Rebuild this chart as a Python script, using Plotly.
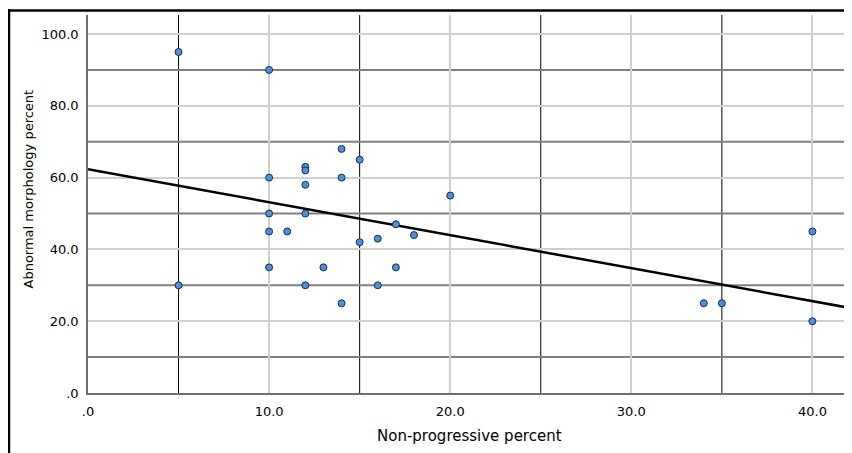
import numpy as np
import plotly.graph_objects as go

# Data
non_progressive = [5, 5, 10, 10, 10, 10, 10, 11, 12, 12, 12, 12, 12, 13, 14, 14, 14,
                   15, 15, 16, 16, 17, 17, 18, 20, 34, 35, 40, 40]
abnormal_morph = [95, 30, 90, 60, 50, 45, 35, 45, 63, 62, 58, 50, 30, 35, 68, 60, 25,
                  65, 42, 43, 30, 47, 35, 44, 55, 25, 25, 45, 20]

x_ticks = [0, 10, 20, 30, 40]
x_tick_text = [".0", "10.0", "20.0", "30.0", "40.0"]
y_ticks = [0, 20, 40, 60, 80, 100]
y_tick_text = [".0", "20.0", "40.0", "60.0", "80.0", "100.0"]
x_ref_lines = [5, 15, 25, 35]
y_ref_lines = [10, 30, 50, 70, 90]

X_MAX = 42.02
Y_MAX = 105.3

FONT = "DejaVu Sans"

# Linear fit (total)
slope, intercept = np.polyfit(non_progressive, abnormal_morph, 1)
fit_x = [0, X_MAX]
fit_y = [intercept + slope * v for v in fit_x]

fig = go.Figure()
fig.add_trace(go.Scatter(
    x=fit_x, y=fit_y, mode="lines",
    line=dict(color="black", width=2.5), hoverinfo="skip", showlegend=False))
fig.add_trace(go.Scatter(
    x=non_progressive, y=abnormal_morph, mode="markers",
    marker=dict(size=7, color="#4a8fe0", line=dict(color="#1f2d3d", width=1)),
    showlegend=False))

shapes = []
for v in x_ref_lines:
    shapes.append(dict(type="line", xref="x", yref="paper", x0=v, x1=v, y0=0, y1=1,
                       line=dict(color="#000000", width=1), layer="below"))
for v in y_ref_lines:
    shapes.append(dict(type="line", xref="paper", yref="y", x0=0, x1=1, y0=v, y1=v,
                       line=dict(color="#808080", width=2), layer="below"))

# page body has an 8px margin; figure coordinates = reference pixels - 8
OFF = 8
FW, FH = 852 - OFF, 453 - OFF
L, R, T, B = 88 - OFF, 849 - OFF, 15 - OFF, 393 - OFF
W, H = R - L, B - T
def px(p):
    return (p - OFF - L) / W
def py(q):
    return (B - (q - OFF)) / H

# outer frame (top and left edges)
shapes.append(dict(type="line", xref="paper", yref="paper", x0=px(8), x1=px(860),
                   y0=py(10.5), y1=py(10.5), line=dict(color="black", width=2.5)))
shapes.append(dict(type="line", xref="paper", yref="paper", x0=px(9), x1=px(9),
                   y0=py(9.3), y1=py(460), line=dict(color="black", width=2.5)))

annotations = [
    dict(text="Non-progressive percent", xref="paper", yref="paper",
         x=px(469), y=py(436), showarrow=False, xanchor="center", yanchor="middle",
         font=dict(family=FONT, size=15, color="black")),
    dict(text="Abnormal morphology percent", xref="paper", yref="paper",
         x=px(27.5), y=py(189), showarrow=False, xanchor="center", yanchor="middle",
         textangle=-90, font=dict(family=FONT, size=13, color="black")),
]

fig.update_layout(
    width=FW, height=FH,
    margin=dict(l=L, r=FW - R, t=T, b=FH - B, autoexpand=False),
    paper_bgcolor="white", plot_bgcolor="white",
    shapes=shapes, annotations=annotations,
    font=dict(family=FONT, size=13, color="black"),
    xaxis=dict(range=[0, X_MAX], tickvals=x_ticks, ticktext=x_tick_text,
               showgrid=True, gridcolor="#d0d0d0", gridwidth=1.5,
               showline=True, linecolor="#707070", linewidth=1.5,
               zeroline=False, ticks="", ticklabelstandoff=6,
               tickfont=dict(family=FONT, size=13, color="black")),
    yaxis=dict(range=[0, Y_MAX], tickvals=y_ticks, ticktext=y_tick_text,
               showgrid=True, gridcolor="#d0d0d0", gridwidth=1.5,
               showline=True, linecolor="#707070", linewidth=1.5,
               zeroline=False, ticks="", ticklabelstandoff=5,
               tickfont=dict(family=FONT, size=13, color="black")),
)

fig.write_html("out.html")
